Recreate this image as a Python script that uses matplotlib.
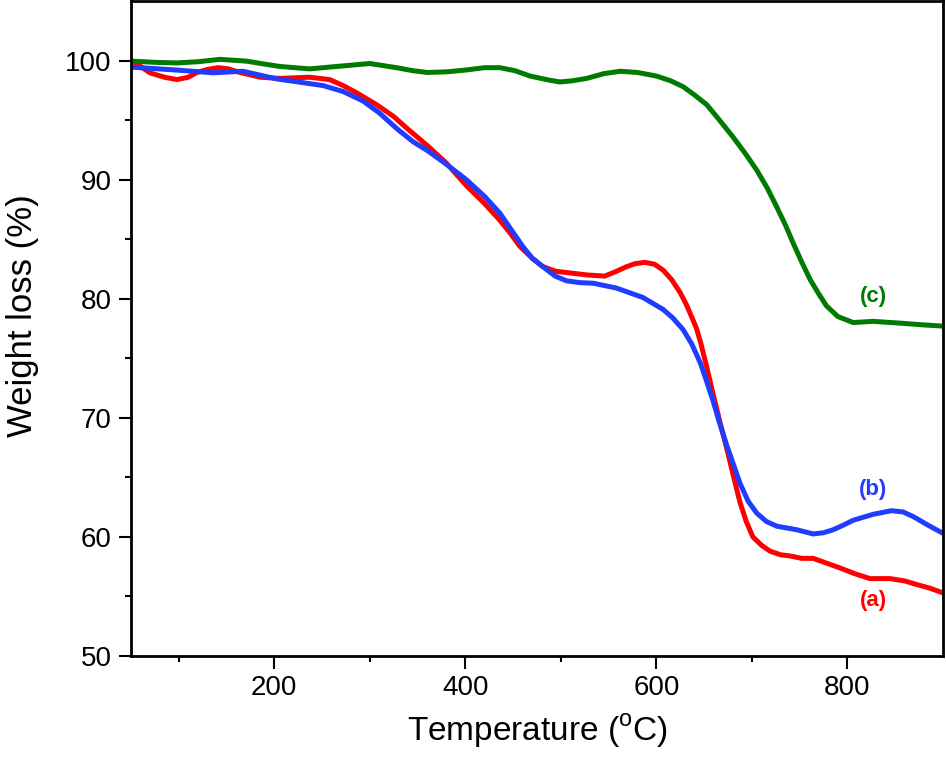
import matplotlib
matplotlib.use("Agg")
import matplotlib.pyplot as plt

plt.rcParams['font.family'] = ['Liberation Sans', 'DejaVu Sans']
plt.rcParams['mathtext.fontset'] = 'custom'
plt.rcParams['mathtext.rm'] = 'Liberation Sans'

# Series (a) red
temp_a = [50, 60, 70, 85, 98, 110, 119, 130, 141, 152, 164, 175, 185, 206, 237, 258, 272, 286, 307, 325,
          339, 361, 380, 401, 420, 436, 447, 457, 470, 481, 495, 506, 527, 546, 558, 569, 578, 588, 598, 607,
          616, 625, 632, 642, 646, 652, 659, 666, 674, 681, 687.5, 694, 701, 710, 719, 730, 740, 752, 764,
          778, 792, 808, 823.6, 844.5, 860, 872.5, 886, 900]
wl_a = [100.0, 99.5, 98.96, 98.6, 98.4, 98.6, 99.0, 99.25, 99.4, 99.3, 99.0, 98.8, 98.6, 98.5, 98.6, 98.4,
        97.9, 97.3, 96.3, 95.3, 94.3, 92.8, 91.4, 89.5, 88.0, 86.6, 85.5, 84.4, 83.4, 82.7, 82.3, 82.2,
        82.0, 81.9, 82.3, 82.7, 82.95, 83.05, 82.9, 82.4, 81.6, 80.5, 79.4, 77.5, 76.4, 74.5, 72.1, 69.8,
        67.3, 65.0, 62.9, 61.3, 60.0, 59.3, 58.8, 58.5, 58.4, 58.2, 58.2, 57.8, 57.4, 56.9, 56.5, 56.5,
        56.3, 56.0, 55.7, 55.3]

# Series (b) blue
temp_b = [50, 98, 136, 167, 202.5, 251, 272, 293, 310, 328, 345, 361, 380, 401, 420, 436, 448, 460, 470,
          481, 494, 506, 520, 534, 558, 586, 607, 617, 628, 637, 646, 652, 659, 666, 674, 681, 687.5, 696,
          705, 715, 726, 747, 764, 775, 785, 796, 806, 827, 846, 858, 869, 884, 900]
wl_b = [99.45, 99.2, 98.97, 99.1, 98.46, 97.9, 97.4, 96.6, 95.6, 94.3, 93.2, 92.4, 91.3, 90.0, 88.6, 87.2,
        85.8, 84.4, 83.4, 82.7, 81.9, 81.5, 81.35, 81.3, 80.9, 80.1, 79.1, 78.4, 77.4, 76.2, 74.6, 73.2,
        71.5, 69.6, 67.6, 66.0, 64.5, 63.0, 62.0, 61.3, 60.9, 60.6, 60.25, 60.35, 60.6, 61.0, 61.4, 61.9,
        62.2, 62.1, 61.7, 61.0, 60.3]

# Series (c) green
temp_c = [50, 75, 98, 120, 143, 171, 190, 206, 237, 265, 300, 328, 345, 360, 380, 400, 420, 436, 452,
          467.7, 485, 499, 512, 527, 545, 562, 580, 600, 615, 628, 640, 652.6, 666, 680, 693, 705, 716, 726,
          735, 743, 752, 761, 770, 778, 790, 806, 827, 855, 880, 900]
wl_c = [99.95, 99.85, 99.8, 99.9, 100.1, 99.95, 99.7, 99.5, 99.3, 99.5, 99.75, 99.4, 99.15, 99.0, 99.05,
        99.2, 99.4, 99.4, 99.15, 98.7, 98.4, 98.2, 98.3, 98.5, 98.9, 99.1, 99.0, 98.7, 98.3, 97.8, 97.1,
        96.3, 95.0, 93.6, 92.2, 90.8, 89.3, 87.7, 86.2, 84.7, 83.1, 81.6, 80.4, 79.4, 78.5, 78.0, 78.1,
        77.95, 77.8, 77.7]

labels = ['(a)', '(b)', '(c)']
label_pos_x = [827, 827, 827]
label_pos_y = [54.65, 63.95, 80.2]
colors = ['#ff0000', '#1f3cff', '#007a00']

fig = plt.figure(figsize=(9.46, 7.64), dpi=100)
ax = fig.add_axes([131/946, 1 - 656/764, (943-131)/946, (656-1)/764])

ax.plot(temp_a, wl_a, color=colors[0], lw=3.6, solid_capstyle='butt')
ax.plot(temp_b, wl_b, color=colors[1], lw=3.6, solid_capstyle='butt')
ax.plot(temp_c, wl_c, color=colors[2], lw=3.6, solid_capstyle='butt')

for lab, lx, ly, c in zip(labels, label_pos_x, label_pos_y, colors):
    ax.text(lx, ly, lab, color=c, fontsize=16, fontweight='bold', ha='center', va='center')

ax.set_xlim(50, 900)
ax.set_ylim(50, 105)
ax.set_xticks([200, 400, 600, 800])
ax.set_xticks([100, 300, 500, 700], minor=True)
ax.set_yticks([50, 60, 70, 80, 90, 100])
ax.set_yticks([55, 65, 75, 85, 95], minor=True)
ax.tick_params(which='major', direction='out', length=9, width=1.5, labelsize=20, pad=5)
ax.tick_params(which='minor', direction='out', length=4.5, width=1.5)
ax.tick_params(top=False, right=False)
for s in ax.spines.values():
    s.set_linewidth(2)

ax.set_xlabel(r'Temperature ($^{\mathrm{o}}$C)', fontsize=24, labelpad=8)
ax.set_ylabel('Weight loss (%)', fontsize=25, labelpad=19)
ax.yaxis.label.set_y(0.52)

fig.savefig('out.png', dpi=100)
